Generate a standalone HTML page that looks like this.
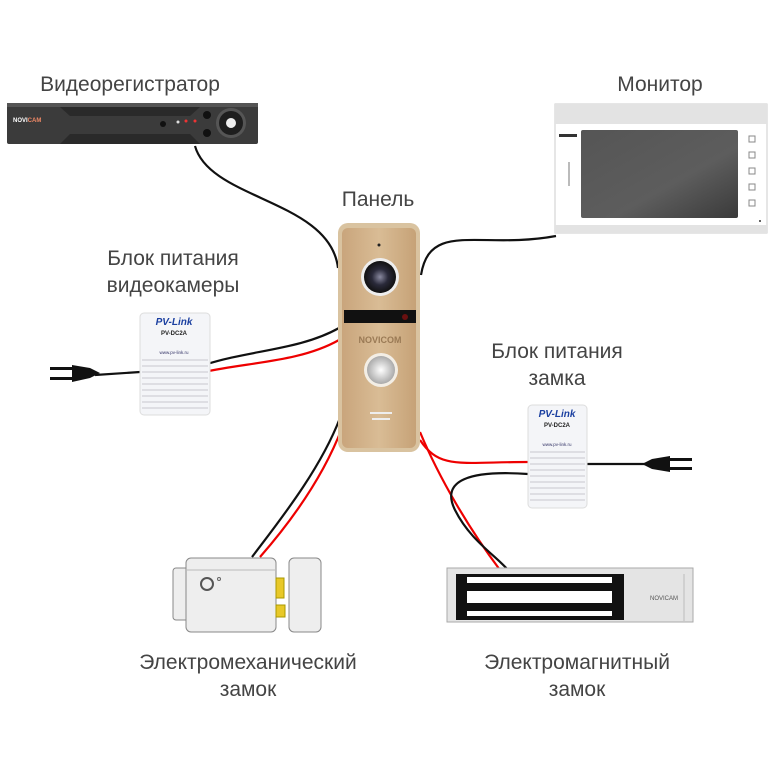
<!DOCTYPE html>
<html><head><meta charset="utf-8"><style>
html,body{margin:0;padding:0;background:#fff}
svg{display:block}
text{font-family:"Liberation Sans",sans-serif}
</style></head><body>
<svg width="773" height="773" viewBox="0 0 773 773" xmlns="http://www.w3.org/2000/svg">
<defs>
<linearGradient id="tan" x1="0" x2="1"><stop offset="0" stop-color="#c9a57c"/><stop offset="0.5" stop-color="#d9bc95"/><stop offset="1" stop-color="#c6a277"/></linearGradient>
<linearGradient id="scr" x1="0" y1="0" x2="1" y2="1"><stop offset="0" stop-color="#555"/><stop offset="0.6" stop-color="#5d5d5d"/><stop offset="1" stop-color="#3a3a3a"/></linearGradient>
<radialGradient id="btn"><stop offset="0" stop-color="#fff"/><stop offset="1" stop-color="#aaa"/></radialGradient>
<radialGradient id="lens"><stop offset="0" stop-color="#8a8aa0"/><stop offset="0.5" stop-color="#2a2a3a"/><stop offset="1" stop-color="#111"/></radialGradient>
</defs>
<g fill="none" stroke-width="2.2">
<path d="M195 146 C210 200 330 200 338 268" stroke="#111"/>
<path d="M556 236 C480 250 430 220 421 275" stroke="#111"/>
<path d="M204 365 C250 350 300 350 339 328" stroke="#111"/>
<path d="M204 372 C250 362 300 362 339 340" stroke="#e00"/>
<path d="M140 372 L95 375" stroke="#111"/>
<path d="M340 418 C320 470 280 520 252 557" stroke="#111"/>
<path d="M342 428 C322 480 288 525 260 557" stroke="#e00"/>
<path d="M420 432 C440 480 470 530 500 570" stroke="#e00"/>
<path d="M528 474 C470 470 440 480 455 510 C470 540 495 555 508 570" stroke="#111"/>
<path d="M420 440 C440 470 460 462 528 462" stroke="#e00"/>
<path d="M587 464 L645 464" stroke="#111"/>
</g>
<g fill="#444" font-size="21" text-anchor="middle">
<text x="130" y="91">Видеорегистратор</text>
<text x="660" y="91">Монитор</text>
<text x="378" y="206">Панель</text>
<text x="173" y="265">Блок питания</text>
<text x="173" y="292">видеокамеры</text>
<text x="557" y="358">Блок питания</text>
<text x="557" y="385">замка</text>
<text x="248" y="669">Электромеханический</text>
<text x="248" y="696">замок</text>
<text x="577" y="669">Электромагнитный</text>
<text x="577" y="696">замок</text>
</g>
<rect x="7" y="103" width="251" height="41" rx="2" fill="#3b3b3b"/>
<rect x="7" y="103" width="251" height="4" fill="#555"/>
<path d="M60 107 L70 116 L190 116 L200 107Z M60 144 L70 134 L190 134 L200 144Z" fill="#2a2a2a"/>
<text x="13" y="122" font-size="6" fill="#fff" font-weight="bold">NOVI<tspan fill="#e86">CAM</tspan></text>
<circle cx="163" cy="124" r="3" fill="#111"/>
<circle cx="178" cy="122" r="1.5" fill="#ddd"/><circle cx="186" cy="121" r="1.5" fill="#e33"/><circle cx="195" cy="121" r="1.5" fill="#e33"/>
<circle cx="207" cy="115" r="4" fill="#111"/><circle cx="207" cy="133" r="4" fill="#111"/>
<circle cx="231" cy="123" r="15" fill="#555"/><circle cx="231" cy="123" r="12" fill="#1e1e1e"/><circle cx="231" cy="123" r="5" fill="#eee"/>
<rect x="555" y="104" width="212" height="129" fill="#fff" stroke="#ccc"/>
<rect x="555" y="104" width="212" height="20" fill="#e3e3e3"/>
<rect x="555" y="225" width="212" height="8" fill="#e3e3e3"/>
<rect x="581" y="130" width="157" height="88" rx="2" fill="url(#scr)"/>
<rect x="559" y="134" width="18" height="3" fill="#333"/>
<rect x="568" y="162" width="2" height="24" fill="#bbb"/>
<circle cx="760" cy="221" r="1" fill="#333"/>
<g fill="none" stroke="#888" stroke-width="1"><rect x="749" y="136" width="6" height="6"/><rect x="749" y="152" width="6" height="6"/><rect x="749" y="168" width="6" height="6"/><rect x="749" y="184" width="6" height="6"/><rect x="749" y="200" width="6" height="6"/></g>
<rect x="338" y="223" width="82" height="229" rx="10" fill="#d9c3a0"/>
<rect x="342" y="228" width="74" height="220" rx="6" fill="url(#tan)"/>
<circle cx="379" cy="245" r="1.5" fill="#222"/>
<circle cx="380" cy="277" r="19" fill="#eee"/>
<circle cx="380" cy="277" r="16" fill="url(#lens)"/>
<rect x="344" y="310" width="72" height="13" fill="#111"/>
<circle cx="405" cy="317" r="3" fill="#6a1010"/>
<text x="380" y="343" font-size="9" font-weight="bold" fill="#9a7a55" text-anchor="middle">NOVICOM</text>
<circle cx="381" cy="370" r="17" fill="#f3eee5"/>
<circle cx="381" cy="370" r="14" fill="url(#btn)"/>
<rect x="370" y="412" width="22" height="2" fill="#eee"/><rect x="372" y="418" width="18" height="2" fill="#eee"/>
<rect x="140" y="313" width="70" height="102" rx="4" fill="#f4f5f8" stroke="#ddd"/>
<g stroke="#d6d6dc" stroke-width="1.5"><line x1="142" y1="360" x2="208" y2="360"/><line x1="142" y1="366" x2="208" y2="366"/><line x1="142" y1="372" x2="208" y2="372"/><line x1="142" y1="378" x2="208" y2="378"/><line x1="142" y1="384" x2="208" y2="384"/><line x1="142" y1="390" x2="208" y2="390"/><line x1="142" y1="396" x2="208" y2="396"/><line x1="142" y1="402" x2="208" y2="402"/><line x1="142" y1="408" x2="208" y2="408"/></g>
<text x="174" y="325" font-size="10" font-weight="bold" font-style="italic" fill="#1a3fa0" text-anchor="middle">PV-Link</text>
<text x="174" y="335" font-size="6" font-weight="bold" fill="#222" text-anchor="middle">PV-DC2A</text>
<text x="174" y="354" font-size="4.5" fill="#336" text-anchor="middle">www.pv-link.ru</text>
<path d="M72 365 L90 368 L100 373 L90 378 L72 382Z" fill="#111"/>
<rect x="50" y="367" width="24" height="3" fill="#111"/><rect x="50" y="377" width="24" height="3" fill="#111"/>
<rect x="528" y="405" width="59" height="103" rx="4" fill="#f4f5f8" stroke="#ddd"/>
<g stroke="#d6d6dc" stroke-width="1.5"><line x1="530" y1="452" x2="585" y2="452"/><line x1="530" y1="458" x2="585" y2="458"/><line x1="530" y1="464" x2="585" y2="464"/><line x1="530" y1="470" x2="585" y2="470"/><line x1="530" y1="476" x2="585" y2="476"/><line x1="530" y1="482" x2="585" y2="482"/><line x1="530" y1="488" x2="585" y2="488"/><line x1="530" y1="494" x2="585" y2="494"/><line x1="530" y1="500" x2="585" y2="500"/></g>
<text x="557" y="417" font-size="10" font-weight="bold" font-style="italic" fill="#1a3fa0" text-anchor="middle">PV-Link</text>
<text x="557" y="427" font-size="6" font-weight="bold" fill="#222" text-anchor="middle">PV-DC2A</text>
<text x="557" y="446" font-size="4.5" fill="#336" text-anchor="middle">www.pv-link.ru</text>
<path d="M670 456 L652 459 L642 464 L652 469 L670 472Z" fill="#111"/>
<rect x="668" y="458" width="24" height="3" fill="#111"/><rect x="668" y="467" width="24" height="3" fill="#111"/>
<rect x="173" y="568" width="16" height="52" rx="3" fill="#eee" stroke="#888"/>
<rect x="186" y="558" width="90" height="74" rx="5" fill="#eee" stroke="#888"/>
<line x1="186" y1="570" x2="276" y2="570" stroke="#bbb"/>
<circle cx="207" cy="584" r="6" fill="none" stroke="#555" stroke-width="2"/>
<circle cx="219" cy="579" r="1.5" fill="none" stroke="#666"/>
<rect x="276" y="578" width="8" height="20" fill="#e8c828" stroke="#a90"/>
<rect x="276" y="605" width="9" height="12" fill="#e8c828" stroke="#a90"/>
<rect x="289" y="558" width="32" height="74" rx="5" fill="#eee" stroke="#888"/>
<rect x="447" y="568" width="246" height="54" fill="#e4e4e4" stroke="#aaa"/>
<line x1="684" y1="574" x2="684" y2="621" stroke="#bbb"/>
<rect x="456" y="574" width="168" height="46" fill="#111"/>
<rect x="467" y="577" width="145" height="6" fill="#fff"/>
<rect x="467" y="591" width="145" height="12" fill="#fff"/>
<rect x="467" y="611" width="145" height="5" fill="#fff"/>
<text x="664" y="600" font-size="6" fill="#555" text-anchor="middle">NOVICAM</text>
</svg>
</body></html>
